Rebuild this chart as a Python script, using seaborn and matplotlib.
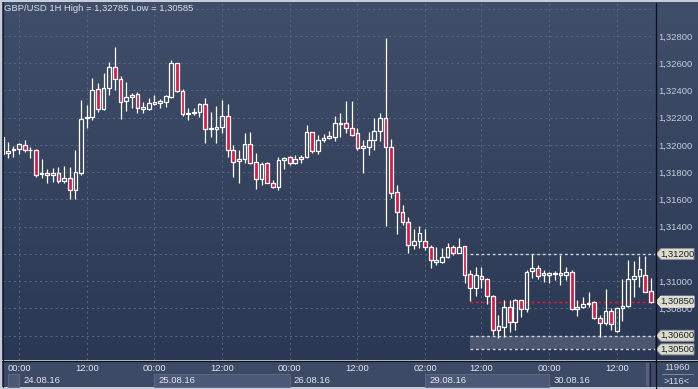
import numpy as np
import pandas as pd
import matplotlib
matplotlib.use("Agg")
import matplotlib.pyplot as plt
import matplotlib.transforms as mtransforms
from matplotlib.patches import Polygon, Rectangle
from matplotlib.lines import Line2D
from matplotlib.colors import LinearSegmentedColormap
import seaborn as sns

# ---------------- data ----------------
bar_index = list(range(-3, 113))
opens = [1.32057, 1.31939, 1.31961, 1.31968, 1.32000, 1.31963, 1.31963, 1.31785, 1.31797, 1.31780,
         1.31797, 1.31736, 1.31756, 1.31670, 1.31797, 1.32196, 1.32208, 1.32409, 1.32264, 1.32416,
         1.32570, 1.32482, 1.32325, 1.32350, 1.32377, 1.32266, 1.32266, 1.32316, 1.32306, 1.32318,
         1.32355, 1.32600, 1.32399, 1.32225, 1.32237, 1.32244, 1.32298, 1.32115, 1.32115, 1.32130,
         1.32213, 1.31963, 1.31880, 1.31895, 1.32007, 1.31873, 1.31748, 1.31866, 1.31723, 1.31690,
         1.31890, 1.31910, 1.31866, 1.31895, 1.31910, 1.32093, 1.31958, 1.32037, 1.32054, 1.32061,
         1.32154, 1.32159, 1.32123, 1.32086, 1.31976, 1.31988, 1.32037, 1.32103, 1.32196, 1.31988,
         1.31657, 1.31511, 1.31437, 1.31266, 1.31298, 1.31298, 1.31249, 1.31139, 1.31139, 1.31176,
         1.31254, 1.31210, 1.31259, 1.31053, 1.30948, 1.31042, 1.31014, 1.30892, 1.30642, 1.30667,
         1.30809, 1.30699, 1.30859, 1.30794, 1.31073, 1.31095, 1.31046, 1.31046, 1.31051, 1.31046,
         1.31046, 1.31068, 1.30794, 1.30809, 1.30831, 1.30846, 1.30728, 1.30692, 1.30782, 1.30637,
         1.30802, 1.30821, 1.31014, 1.31039, 1.31046, 1.30931]
highs = [1.32073, 1.32024, 1.31993, 1.32011, 1.32037, 1.31988, 1.31971, 1.31897, 1.31822, 1.31829,
         1.31836, 1.31846, 1.31841, 1.31963, 1.32330, 1.32294, 1.32490, 1.32453, 1.32526, 1.32611,
         1.32722, 1.32507, 1.32465, 1.32384, 1.32391, 1.32318, 1.32343, 1.32367, 1.32336, 1.32367,
         1.32624, 1.32604, 1.32409, 1.32269, 1.32269, 1.32310, 1.32343, 1.32244, 1.32286, 1.32330,
         1.32301, 1.32000, 1.31963, 1.32086, 1.32098, 1.31944, 1.31877, 1.31877, 1.31743, 1.31914,
         1.31914, 1.31919, 1.31927, 1.31927, 1.32147, 1.32098, 1.32073, 1.32081, 1.32103, 1.32213,
         1.32233, 1.32325, 1.32325, 1.32123, 1.32037, 1.32098, 1.32196, 1.32237, 1.32785, 1.32042,
         1.31707, 1.31560, 1.31474, 1.31381, 1.31406, 1.31381, 1.31266, 1.31249, 1.31242, 1.31278,
         1.31266, 1.31315, 1.31259, 1.31083, 1.31102, 1.31102, 1.31022, 1.30900, 1.30752, 1.30862,
         1.30862, 1.30868, 1.30866, 1.31083, 1.31198, 1.31119, 1.31083, 1.31071, 1.31077, 1.31193,
         1.31107, 1.31083, 1.30862, 1.30882, 1.30919, 1.30857, 1.30752, 1.30941, 1.30802, 1.30806,
         1.31014, 1.31156, 1.31151, 1.31185, 1.31185, 1.31022]
lows = [1.31919, 1.31902, 1.31914, 1.31932, 1.31951, 1.31902, 1.31767, 1.31756, 1.31719, 1.31731,
        1.31719, 1.31719, 1.31601, 1.31601, 1.31780, 1.32123, 1.32184, 1.32244, 1.32257, 1.32367,
        1.32404, 1.32191, 1.32252, 1.32269, 1.32237, 1.32237, 1.32257, 1.32294, 1.32269, 1.32281,
        1.32343, 1.32391, 1.32213, 1.32184, 1.32220, 1.32208, 1.32017, 1.32061, 1.32017, 1.32086,
        1.31910, 1.31767, 1.31719, 1.31866, 1.31861, 1.31675, 1.31707, 1.31719, 1.31682, 1.31670,
        1.31822, 1.31853, 1.31861, 1.31866, 1.31902, 1.31939, 1.31934, 1.32024, 1.32042, 1.32032,
        1.32061, 1.32086, 1.32066, 1.31963, 1.31797, 1.31927, 1.31963, 1.32032, 1.31406, 1.31609,
        1.31347, 1.31413, 1.31210, 1.31234, 1.31242, 1.31229, 1.31095, 1.31119, 1.31132, 1.31169,
        1.31193, 1.31205, 1.30985, 1.30855, 1.30892, 1.30948, 1.30833, 1.30606, 1.30585, 1.30589,
        1.30630, 1.30642, 1.30735, 1.30777, 1.31022, 1.31016, 1.30995, 1.30985, 1.31009, 1.30973,
        1.31009, 1.30789, 1.30747, 1.30802, 1.30813, 1.30721, 1.30589, 1.30679, 1.30642, 1.30630,
        1.30708, 1.30813, 1.30887, 1.30960, 1.30921, 1.30838]
closes = [1.31934, 1.31958, 1.31968, 1.32005, 1.31963, 1.31960, 1.31780, 1.31791, 1.31780, 1.31797,
          1.31736, 1.31756, 1.31670, 1.31800, 1.32189, 1.32208, 1.32404, 1.32264, 1.32416, 1.32570,
          1.32482, 1.32318, 1.32350, 1.32365, 1.32269, 1.32276, 1.32306, 1.32301, 1.32323, 1.32360,
          1.32600, 1.32399, 1.32225, 1.32237, 1.32244, 1.32298, 1.32115, 1.32123, 1.32134, 1.32213,
          1.31963, 1.31873, 1.31895, 1.32007, 1.31866, 1.31748, 1.31861, 1.31723, 1.31690, 1.31890,
          1.31902, 1.31866, 1.31895, 1.31910, 1.32093, 1.31958, 1.32037, 1.32054, 1.32066, 1.32159,
          1.32164, 1.32123, 1.32073, 1.31976, 1.31993, 1.32037, 1.32103, 1.32196, 1.31988, 1.31650,
          1.31511, 1.31437, 1.31266, 1.31298, 1.31356, 1.31249, 1.31156, 1.31156, 1.31176, 1.31254,
          1.31205, 1.31254, 1.31046, 1.30948, 1.31046, 1.31014, 1.30890, 1.30640, 1.30668, 1.30809,
          1.30699, 1.30859, 1.30794, 1.31068, 1.31095, 1.31036, 1.31058, 1.31059, 1.31063, 1.31059,
          1.31068, 1.30794, 1.30809, 1.30831, 1.30843, 1.30728, 1.30692, 1.30782, 1.30686, 1.30802,
          1.30821, 1.31014, 1.31039, 1.31088, 1.30923, 1.30850]

time_tick_index = [0, 12, 24, 36, 48, 60, 72, 82, 94, 106]
time_tick_labels = ["00:00", "12:00", "00:00", "12:00", "00:00", "12:00",
                    "02:00", "12:00", "00:00", "12:00"]
date_start_index = [0, 24, 48, 72, 94]
date_labels = ["24.08.16", "25.08.16", "26.08.16", "29.08.16", "30.08.16"]
shaded_date_spans = [(-1.95, 0), (24, 48), (72, 94)]
price_ticks = [1.306, 1.308, 1.310, 1.312, 1.314, 1.316, 1.318, 1.320,
               1.322, 1.324, 1.326, 1.328, 1.330]
hidden_price_ticks = [1.306, 1.312, 1.330]   # covered by tags / off-scale
level_prices = [1.312, 1.3085, 1.306, 1.305]
level_labels = ["1,31200", "1,30850", "1,30600", "1,30500"]
level_start_index = 79.9
title_text = "GBP/USD 1H High = 1,32785 Low = 1,30585"
corner_texts = ["11960", ">116<"]

# ---------------- style ----------------
sns.set_theme(style="dark")
plt.rcParams['font.family'] = ['Liberation Sans', 'DejaVu Sans']

W, H = 698, 389
fig = plt.figure(figsize=(W / 100, H / 100), dpi=100, facecolor='#c6cdd8')


def frect(x0, y0, x1, y1):
    return [x0 / W, 1 - y1 / H, (x1 - x0) / W, (y1 - y0) / H]


# gradient background of chart + price scale
bg = fig.add_axes(frect(2, 2, 698, 360), zorder=0)
grad = np.linspace(0, 1, 256).reshape(-1, 1)
cmap = LinearSegmentedColormap.from_list('bg', ['#404e6a', '#2b3854'])
bg.imshow(grad, aspect='auto', cmap=cmap, extent=[0, 1, 0, 1], origin='upper')
bg.set_axis_off()

# time scale panel
fig.add_artist(Rectangle((2 / W, 1 - 387 / H), 696 / W, 26 / H, transform=fig.transFigure,
                         facecolor='#3d4a65', edgecolor='none', zorder=1))

ax = fig.add_axes(frect(3, 3, 655, 360), zorder=3)
ax.set_facecolor('none')
for s in ax.spines.values():
    s.set_visible(False)

xlim = (-2.84, 112.77)
ylim = (1.30422, 1.33042)

df = pd.DataFrame({'idx': bar_index, 'open': opens, 'high': highs,
                   'low': lows, 'close': closes})
df['bull'] = df['close'] >= df['open']
df['top'] = df[['open', 'close']].max(axis=1)
df['bot'] = df[['open', 'close']].min(axis=1)

# levels
ax.fill_between([level_start_index, xlim[1]], level_prices[3], level_prices[2],
                color='#4b566f', lw=0, zorder=2)
level_colors = ['#cfd3db', '#e8182a', '#cfd3db', '#cfd3db']
for lvl, col in zip(level_prices, level_colors):
    ax.plot([level_start_index, xlim[1]], [lvl, lvl], color=col, lw=1.0,
            ls=(0, (2, 2)), zorder=3)

# candles
ax.vlines(df['idx'], df['top'], df['high'], color='white', lw=0.9, zorder=4)
ax.vlines(df['idx'], df['low'], df['bot'], color='white', lw=0.9, zorder=4)
face = ['none' if b else '#e0173f' for b in df['bull']]
ax.bar(df['idx'], df['top'] - df['bot'], bottom=df['bot'], width=0.66,
       color=face, edgecolor='white', linewidth=0.9, zorder=5)

# axes / grid
ax.set_xlim(*xlim)
ax.set_ylim(*ylim)
ax.set_xticks(time_tick_index)
ax.set_xticklabels(time_tick_labels)
ax.yaxis.tick_right()
ax.set_yticks(price_ticks)
ax.set_yticklabels(["" if any(abs(v - h) < 1e-6 for h in hidden_price_ticks)
                    else f"{v:.5f}".replace('.', ',') for v in price_ticks])
ax.tick_params(axis='x', length=0, pad=3.0, labelsize=6.8, labelcolor='#dfe5ef')
ax.tick_params(axis='y', length=0, pad=2.2, labelsize=6.8, labelcolor='#c4ccdc')
ax.grid(True, color='#58657f', linestyle=(0, (2, 3)), linewidth=0.75)
ax.set_axisbelow(True)

# date boxes under time labels
blend_x = mtransforms.blended_transform_factory(ax.transData, ax.transAxes)


def ay(py):
    return (360 - py) / 357


for x0, x1 in shaded_date_spans:
    ax.add_patch(Rectangle((x0, ay(386.5)), x1 - x0, ay(374) - ay(386.5), transform=blend_x,
                           facecolor='#4b5977', edgecolor='#5e6c89', lw=0.6,
                           clip_on=False, zorder=1))
for xi, lab in zip(date_start_index, date_labels):
    ax.annotate(lab, xy=(xi, ay(380.5)), xycoords=blend_x, xytext=(4, 0),
                textcoords='offset pixels', ha='left', va='center', fontsize=6.8,
                color='#e2e8f2', annotation_clip=False, zorder=6)

# price tags
blend_y = mtransforms.blended_transform_factory(ax.transAxes, ax.transData)
verts = np.array([(1, 0), (6, 5.5), (39, 5.5), (39, -5.5), (6, -5.5)]) / 100.0
tag_edges = ['#8c939e', '#f4f4f4', '#8c939e', '#8c939e']
for lvl, lab, ec in zip(level_prices, level_labels, tag_edges):
    tr = fig.dpi_scale_trans + mtransforms.ScaledTranslation(1.0, lvl, blend_y)
    ax.add_patch(Polygon(verts, closed=True, transform=tr, facecolor='#dcdccb',
                         edgecolor=ec, lw=0.7, clip_on=False, zorder=7))
    ax.annotate(lab, xy=(1.0, lvl), xycoords=blend_y, xytext=(22, 0),
                textcoords='offset pixels', ha='center', va='center', fontsize=6.8,
                color='#1d2535', annotation_clip=False, zorder=8)
ax.set_xlim(*xlim)
ax.set_ylim(*ylim)

# title
fig.text(4 / W, 1 - 8.5 / H, title_text, ha='left', va='center', fontsize=6.8,
         color='#d3dbe9', zorder=6)

# frame lines
fig.add_artist(Line2D([655.5 / W, 655.5 / W], [1 - 3 / H, 1 - 388 / H],
                      transform=fig.transFigure, color='#0c1018', lw=0.9, zorder=5))
fig.add_artist(Line2D([2 / W, 1], [1 - 360.5 / H, 1 - 360.5 / H],
                      transform=fig.transFigure, color='#0c1018', lw=0.9, zorder=5))
fig.add_artist(Line2D([2.5 / W, 2.5 / W], [1 - 2 / H, 1 - 387 / H],
                      transform=fig.transFigure, color='#1a2030', lw=0.8, zorder=5))

# small scroll separator in time panel
fig.add_artist(Rectangle((646 / W, 1 - 386 / H), 3 / W, 23 / H, transform=fig.transFigure,
                         facecolor='#56627c', edgecolor='none', zorder=5))
fig.add_artist(Line2D([649.5 / W, 649.5 / W], [1 - 363 / H, 1 - 386 / H],
                      transform=fig.transFigure, color='#1a2030', lw=0.8, zorder=5))

# corner box texts
fig.text(677 / W, 1 - 367 / H, corner_texts[0], ha='center', va='center', fontsize=6.8,
         color='#d3dbe9', zorder=6)
fig.text(677 / W, 1 - 381 / H, corner_texts[1], ha='center', va='center', fontsize=6.8,
         color='#d3dbe9', zorder=6)
fig.add_artist(Line2D([662 / W, 693 / W], [1 - 374 / H, 1 - 374 / H],
                      transform=fig.transFigure, color='#7d8aa3', lw=0.7, zorder=5))

fig.savefig("out.png", dpi=100, facecolor=fig.get_facecolor())
